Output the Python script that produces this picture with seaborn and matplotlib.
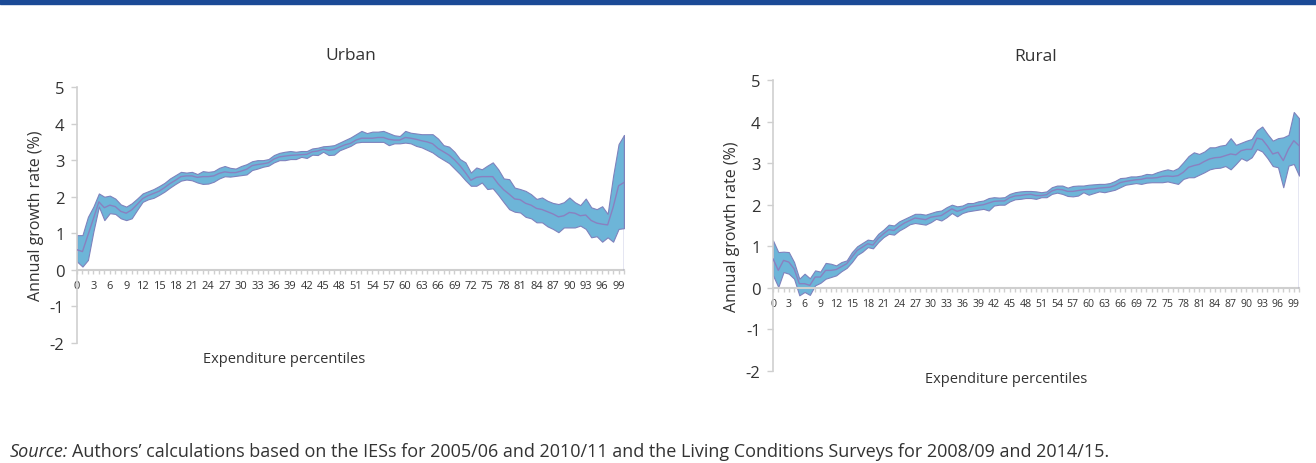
import matplotlib
matplotlib.use("Agg")
import matplotlib.pyplot as plt
import matplotlib.patches as mpatches
import numpy as np
import pandas as pd
import seaborn as sns

# percentiles 0..100
percentiles = list(range(0, 101))

urban_upper = [0.95, 0.95, 1.45, 1.73, 2.09, 2.00, 2.03, 1.95, 1.79, 1.73,
               1.82, 1.95, 2.09, 2.15, 2.21, 2.29, 2.38, 2.50, 2.59, 2.68,
               2.66, 2.68, 2.62, 2.70, 2.68, 2.70, 2.79, 2.84, 2.79, 2.77,
               2.84, 2.89, 2.97, 3.00, 3.00, 3.03, 3.14, 3.20, 3.23, 3.25,
               3.23, 3.25, 3.25, 3.32, 3.34, 3.38, 3.39, 3.41, 3.48, 3.55,
               3.62, 3.71, 3.80, 3.74, 3.78, 3.78, 3.80, 3.74, 3.68, 3.66,
               3.80, 3.75, 3.73, 3.71, 3.71, 3.71, 3.59, 3.41, 3.37, 3.23,
               3.03, 2.94, 2.66, 2.80, 2.75, 2.85, 2.94, 2.75, 2.50, 2.48,
               2.25, 2.21, 2.16, 2.07, 1.94, 1.98, 1.89, 1.83, 1.80, 1.85,
               1.98, 1.85, 1.77, 1.95, 1.71, 1.66, 1.74, 1.53, 2.57, 3.44,
               3.69]
urban_mid = [0.55, 0.50, 0.95, 1.40, 1.86, 1.70, 1.77, 1.73, 1.60, 1.55,
             1.64, 1.79, 1.95, 2.03, 2.09, 2.15, 2.25, 2.36, 2.45, 2.55,
             2.57, 2.57, 2.53, 2.55, 2.55, 2.57, 2.64, 2.68, 2.66, 2.66,
             2.70, 2.75, 2.85, 2.88, 2.90, 2.93, 3.03, 3.09, 3.11, 3.13,
             3.14, 3.15, 3.16, 3.23, 3.25, 3.30, 3.27, 3.29, 3.36, 3.42,
             3.46, 3.55, 3.60, 3.60, 3.60, 3.62, 3.62, 3.57, 3.55, 3.55,
             3.62, 3.60, 3.57, 3.53, 3.50, 3.45, 3.32, 3.23, 3.14, 3.01,
             2.85, 2.66, 2.45, 2.53, 2.55, 2.55, 2.55, 2.35, 2.19, 2.07,
             1.94, 1.92, 1.82, 1.77, 1.68, 1.65, 1.59, 1.53, 1.45, 1.48,
             1.57, 1.55, 1.48, 1.50, 1.35, 1.28, 1.25, 1.23, 1.71, 2.30,
             2.39]
urban_lower = [0.23, 0.09, 0.27, 1.05, 1.73, 1.36, 1.55, 1.53, 1.41, 1.36,
               1.41, 1.64, 1.86, 1.93, 1.97, 2.05, 2.14, 2.25, 2.35, 2.44,
               2.47, 2.45, 2.39, 2.35, 2.36, 2.41, 2.50, 2.56, 2.55, 2.57,
               2.59, 2.61, 2.73, 2.77, 2.82, 2.85, 2.94, 3.00, 3.00, 3.03,
               3.03, 3.09, 3.06, 3.15, 3.14, 3.23, 3.14, 3.15, 3.27, 3.33,
               3.39, 3.48, 3.50, 3.50, 3.50, 3.50, 3.50, 3.41, 3.46, 3.46,
               3.48, 3.46, 3.39, 3.35, 3.28, 3.21, 3.10, 3.01, 2.92, 2.77,
               2.62, 2.45, 2.30, 2.30, 2.39, 2.21, 2.23, 2.05, 1.85, 1.66,
               1.59, 1.57, 1.45, 1.41, 1.30, 1.30, 1.19, 1.12, 1.03, 1.16,
               1.16, 1.16, 1.21, 1.12, 0.89, 0.92, 0.77, 0.89, 0.77, 1.12,
               1.14]

rural_upper = [1.14, 0.86, 0.87, 0.86, 0.62, 0.22, 0.34, 0.23, 0.42, 0.39,
               0.60, 0.58, 0.54, 0.62, 0.66, 0.86, 1.00, 1.08, 1.16, 1.14,
               1.30, 1.40, 1.52, 1.50, 1.60, 1.66, 1.72, 1.78, 1.78, 1.76,
               1.80, 1.84, 1.86, 1.94, 2.00, 1.96, 1.98, 2.04, 2.04, 2.08,
               2.10, 2.16, 2.18, 2.17, 2.18, 2.26, 2.30, 2.32, 2.33, 2.33,
               2.32, 2.30, 2.32, 2.42, 2.46, 2.46, 2.41, 2.45, 2.46, 2.46,
               2.48, 2.49, 2.50, 2.50, 2.52, 2.57, 2.64, 2.65, 2.68, 2.68,
               2.70, 2.74, 2.73, 2.78, 2.82, 2.85, 2.82, 2.88, 3.02, 3.17,
               3.26, 3.22, 3.28, 3.38, 3.38, 3.42, 3.44, 3.60, 3.44, 3.49,
               3.54, 3.58, 3.79, 3.88, 3.70, 3.54, 3.60, 3.62, 3.68, 4.23,
               4.08]
rural_mid = [0.70, 0.42, 0.66, 0.62, 0.46, 0.10, 0.10, 0.06, 0.26, 0.26,
             0.42, 0.42, 0.44, 0.51, 0.58, 0.74, 0.90, 0.98, 1.06, 1.03,
             1.19, 1.30, 1.40, 1.38, 1.48, 1.56, 1.62, 1.68, 1.66, 1.64,
             1.70, 1.72, 1.74, 1.82, 1.90, 1.84, 1.88, 1.94, 1.96, 1.98,
             2.00, 2.04, 2.08, 2.09, 2.09, 2.17, 2.21, 2.22, 2.24, 2.25,
             2.22, 2.22, 2.24, 2.33, 2.37, 2.36, 2.32, 2.32, 2.34, 2.36,
             2.37, 2.38, 2.40, 2.41, 2.42, 2.46, 2.53, 2.56, 2.58, 2.60,
             2.61, 2.64, 2.64, 2.65, 2.68, 2.69, 2.68, 2.70, 2.78, 2.90,
             2.94, 2.97, 3.04, 3.10, 3.13, 3.14, 3.18, 3.22, 3.20, 3.30,
             3.33, 3.33, 3.60, 3.57, 3.41, 3.22, 3.26, 3.06, 3.34, 3.54,
             3.42]
rural_lower = [0.30, 0.02, 0.38, 0.34, 0.22, -0.18, -0.10, -0.17, 0.06, 0.12,
               0.22, 0.26, 0.30, 0.40, 0.48, 0.62, 0.79, 0.87, 0.98, 0.95,
               1.10, 1.22, 1.30, 1.28, 1.38, 1.45, 1.53, 1.56, 1.54, 1.52,
               1.58, 1.66, 1.62, 1.70, 1.80, 1.72, 1.80, 1.84, 1.86, 1.88,
               1.90, 1.86, 1.98, 2.00, 2.00, 2.08, 2.13, 2.14, 2.16, 2.16,
               2.14, 2.18, 2.18, 2.26, 2.29, 2.26, 2.21, 2.20, 2.22, 2.30,
               2.24, 2.28, 2.32, 2.30, 2.33, 2.36, 2.42, 2.48, 2.50, 2.52,
               2.50, 2.53, 2.54, 2.54, 2.54, 2.56, 2.53, 2.50, 2.62, 2.66,
               2.66, 2.72, 2.78, 2.85, 2.88, 2.89, 2.93, 2.85, 2.98, 3.12,
               3.06, 3.14, 3.34, 3.28, 3.12, 2.93, 2.90, 2.42, 2.94, 2.98,
               2.70]

panels = ["Urban", "Rural"]
source_note = ("Authors\u2019 calculations based on the IESs for 2005/06 and 2010/11 "
               "and the Living Conditions Surveys for 2008/09 and 2014/15.")

FILL = "#6db5d8"
EDGE = "#7f82bd"
MID = "#8a80c0"
GRID = "#cfcfcf"
TEXT = "#333333"

sns.set_theme(style="white")
plt.rcParams["font.family"] = ["Open Sans", "DejaVu Sans"]
plt.rcParams["axes.unicode_minus"] = False

fig = plt.figure(figsize=(13.16, 4.64), dpi=100)

# top banner bar
fig.patches.append(mpatches.Rectangle((0, 0.989), 1, 0.011, transform=fig.transFigure,
                                      color="#1b4a96", zorder=0))

ax_u = fig.add_axes([0.0585, 0.2586, 0.4157, 0.5517])
ax_r = fig.add_axes([0.5874, 0.1983, 0.3997, 0.6272])

series = {
    "Urban": (urban_lower, urban_mid, urban_upper),
    "Rural": (rural_lower, rural_mid, rural_upper),
}

for ax, name in zip([ax_u, ax_r], panels):
    lower, mid, upper = series[name]
    df = pd.DataFrame({"pct": percentiles, "mid": mid, "lower": lower, "upper": upper})

    ax.fill_between(df["pct"], df["lower"], df["upper"], facecolor=FILL,
                    edgecolor=EDGE, linewidth=0.8, zorder=2)
    sns.lineplot(data=df, x="pct", y="mid", ax=ax, color=MID, linewidth=1.0, zorder=3)
    ax.vlines(df["pct"].iloc[-1], 0, df["upper"].iloc[-1], color=EDGE, linewidth=1.0, zorder=3)

    ax.set_xlim(0, 100)
    ax.set_ylim(-2, 5)
    ax.set_yticks(range(-2, 6))
    ax.set_xticks(range(0, 100, 3))
    ax.set_xticks(range(0, 101), minor=True)
    ax.set_xticklabels([str(v) for v in range(0, 100, 3)])

    for s in ["top", "right"]:
        ax.spines[s].set_visible(False)
    ax.spines["left"].set_color(GRID)
    ax.spines["left"].set_linewidth(1.2)
    ax.spines["bottom"].set_position(("data", 0))
    ax.spines["bottom"].set_color(GRID)
    ax.spines["bottom"].set_linewidth(1.5)

    ax.tick_params(axis="y", which="major", length=4, width=1, color=GRID,
                   labelsize=12, labelcolor=TEXT, pad=5, left=True)
    ax.tick_params(axis="x", which="both", length=3, width=1, color=GRID,
                   direction="out", bottom=True, labelcolor=TEXT, pad=4)
    ax.tick_params(axis="x", which="major", labelsize=8 if name == "Urban" else 7.6)

    ax.set_ylabel("Annual growth rate (%)", fontsize=11.5, color=TEXT, labelpad=4)
    ax.set_xlabel("")
    ax.set_title(name, fontsize=12.5, color=TEXT, pad=20 if name == "Urban" else 14.5)

ax_u.text(0.378, -0.062, "Expenditure percentiles", transform=ax_u.transAxes,
          ha="center", va="center", fontsize=10.5, color=TEXT)
ax_r.text(0.443, -0.027, "Expenditure percentiles", transform=ax_r.transAxes,
          ha="center", va="center", fontsize=10.5, color=TEXT)

# source line: italic label followed by the note
src = fig.text(0.0076, 0.026, "Source:", fontsize=13, style="italic", color=TEXT, va="center")
fig.canvas.draw()
bb = src.get_window_extent(renderer=fig.canvas.get_renderer())
x_next = (bb.x1 + 4) / fig.bbox.width
fig.text(x_next, 0.026, source_note, fontsize=13, color=TEXT, va="center")

fig.savefig("out.png", dpi=100)
